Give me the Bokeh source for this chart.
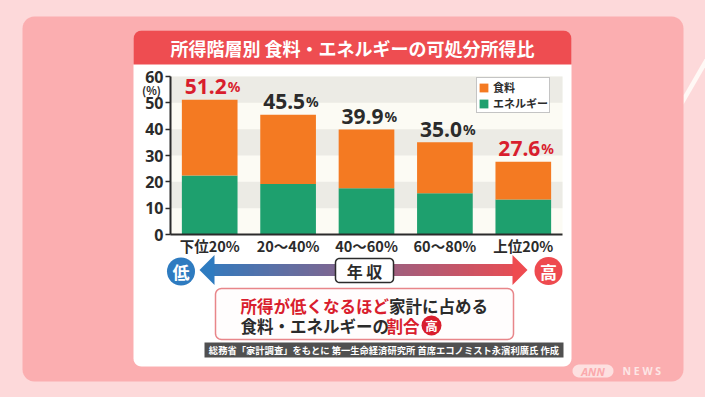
import numpy as np
from bokeh.plotting import figure
from bokeh.models import (ColumnDataSource, Range1d, FixedTicker, Legend, LegendItem, LinearAxis)
from bokeh.core.properties import value
from bokeh.embed import file_html
from bokeh.resources import INLINE

# ---------------- data ----------------
categories = ["下位20%", "20〜40%", "40〜60%", "60〜80%", "上位20%"]
energy = [22.4, 19.2, 17.6, 15.7, 13.3]
food = [28.8, 26.3, 22.3, 19.3, 14.3]
totals = [51.2, 45.5, 39.9, 35.0, 27.6]
highlight = [True, False, False, False, True]
y_ticks = [0, 10, 20, 30, 40, 50, 60]
series_names = ["食料", "エネルギー"]
title_text = "所得階層別 食料・エネルギーの可処分所得比"
axis_unit = "(%)"
arrow_left, arrow_mid, arrow_right = "低", "年 収", "高"
note_line1 = ["所得が低くなるほど", "家計に占める"]
note_line2 = ["食料・エネルギーの", "割合", "高"]
source_text = "総務省「家計調査」をもとに 第一生命経済研究所 首席エコノミスト永濱利廣氏 作成"

# ---------------- style ----------------
JP = "Noto Sans CJK JP"
LAT = "Noto Sans"
ORANGE = "#F47A22"
GREEN = "#1EA06E"
RED = "#D91E2E"
DARK = "#2B2B2B"
BG_OUT = "#FDD9DA"
BG_IN = "#FBAEB0"
TITLE_RED = "#EE4D51"
CREAM = "#FCFBF4"
BAND = "#ECEBE5"
BLUE = (46, 123, 192)
ARED = (238, 75, 80)

W, H = 705, 397
FL, FR, FT, FB = 170, 562, 76, 234   # chart area edges in page pixels
NCAT = len(categories)
ymin, ymax = y_ticks[0], y_ticks[-1]
ux = (FR - FL) / NCAT
uy = (FB - FT) / (ymax - ymin)
LABEL_GAP = 13 / uy   # gap between bar top and its value label

p = figure(width=W, height=H,
           x_range=Range1d(-0.5 - FL / ux, -0.5 + (W - FL) / ux),
           y_range=Range1d(ymin - (H - FB) / uy, ymax + FT / uy),
           x_axis_type=None, y_axis_type=None,
           output_backend="svg", toolbar_location=None, title=None, min_border=0,
           background_fill_color=BG_OUT, border_fill_color=BG_OUT, outline_line_color=None)
p.extra_x_ranges = {"px": Range1d(0, W)}
p.extra_y_ranges = {"px": Range1d(H, 0)}
PX = dict(x_range_name="px", y_range_name="px")


def rrect(x0, y0, x1, y1, r, n=8):
    if not isinstance(r, (tuple, list)):
        r = (r, r, r, r)
    tl, tr, br, bl = r
    pts = []
    corners = [(x1 - tr, y0 + tr, tr, -90, 0), (x1 - br, y1 - br, br, 0, 90),
               (x0 + bl, y1 - bl, bl, 90, 180), (x0 + tl, y0 + tl, tl, 180, 270)]
    for cx, cy, rad, a0, a1 in corners:
        for t in np.linspace(a0, a1, n):
            a = np.radians(t)
            pts.append((float(cx + rad * np.cos(a)), float(cy + rad * np.sin(a))))
    return [a for a, b in pts], [b for a, b in pts]


def shape(xs, ys, color, line_color=None, line_width=1, alpha=1.0):
    p.patch(list(xs), list(ys), fill_color=color, fill_alpha=alpha, line_color=line_color,
            line_width=line_width, **PX)


def txt(x, y, text, size, color, align="center", font=JP, style="bold", baseline="middle"):
    p.text(x=[x], y=[y], text=[text], text_align=align, text_baseline=baseline,
           text_color=color, text_font=value(font), text_font_size=size,
           text_font_style=style, **PX)


# ---------------- background decorations ----------------
shape([705, 705, 683, 683], [57, 66, 104, 95], "#FFF8F5")
shape(*rrect(22, 16, 683, 381, 12), BG_IN)
shape(*rrect(133, 30, 571, 366, 8), "white")
shape(*rrect(133, 30, 571, 64, (8, 8, 0, 0)), TITLE_RED)
txt(352, 47.5, title_text, "18px", "white")

# chart area background and alternating bands
p.quad(left=-0.5, right=NCAT - 0.5, bottom=ymin, top=ymax, fill_color=CREAM, line_color=None)
p.quad(left=-0.5, right=NCAT - 0.5, bottom=y_ticks[1::2], top=y_ticks[2::2],
       fill_color=BAND, line_color=None)

# ---------------- bars ----------------
src = ColumnDataSource(dict(xi=list(range(NCAT)), cat=categories, energy=energy, food=food,
                            total=totals, label_y=[t + LABEL_GAP for t in totals],
                            num=[f"{t:.1f}" for t in totals],
                            color=[RED if h else DARK for h in highlight]))
rs = p.vbar_stack(["energy", "food"], x="xi", width=0.71, fill_color=[GREEN, ORANGE],
                  line_color=None, source=src)

p.text(x="xi", y="label_y", text="num", source=src, text_align="right", text_baseline="alphabetic",
       x_offset=17, text_color="color", text_font=value(LAT),
       text_font_style="bold", text_font_size="21px")
p.text(x="xi", y="label_y", text=value("%"), source=src, text_align="left", text_baseline="alphabetic",
       x_offset=18, text_color="color", text_font=value(LAT),
       text_font_style="bold", text_font_size="14px")

# ---------------- axes ----------------
yax = LinearAxis(ticker=FixedTicker(ticks=y_ticks), fixed_location=-0.5, bounds=(ymin, ymax),
                 major_tick_out=5, major_tick_in=0, minor_tick_line_color=None,
                 major_tick_line_color=DARK, major_tick_line_width=1.5,
                 axis_line_color=DARK, axis_line_width=2, major_label_standoff=2,
                 major_label_text_font=LAT, major_label_text_font_size="16px",
                 major_label_text_font_style="bold", major_label_text_color=DARK)
p.add_layout(yax, "left")
xax = LinearAxis(ticker=FixedTicker(ticks=list(range(NCAT))), fixed_location=ymin,
                 bounds=(-0.5, NCAT - 0.5),
                 major_label_overrides={i: c for i, c in enumerate(categories)},
                 major_tick_line_color=None, minor_tick_line_color=None,
                 major_tick_out=0, major_tick_in=0,
                 axis_line_color=DARK, axis_line_width=2, major_label_standoff=0,
                 major_label_text_font=JP, major_label_text_font_size="14.5px",
                 major_label_text_font_style="bold", major_label_text_color=DARK)
p.add_layout(xax, "below")
txt(151, 89, axis_unit, "11px", DARK)

# ---------------- income arrow ----------------
x_start, x_end = 199.0, 527.0
head = 15.0
n = 60
edges = np.linspace(x_start + head - 1, x_end - head + 1, n + 1)
cols = []
for i in range(n):
    t = ((edges[i] + edges[i + 1]) / 2 - x_start) / (x_end - x_start)
    c = tuple(int(round(BLUE[k] + (ARED[k] - BLUE[k]) * t)) for k in range(3))
    cols.append("#%02x%02x%02x" % c)
p.quad(left=[float(v) for v in edges[:-1]], right=[float(v) + 0.7 for v in edges[1:]],
       top=263.5, bottom=275.5, fill_color=cols, line_color=None, **PX)
shape([x_start, x_start + head, x_start + head], [269.5, 254.5, 284.5], "#%02x%02x%02x" % BLUE)
shape([x_end, x_end - head, x_end - head], [269.5, 254.5, 284.5], "#%02x%02x%02x" % ARED)

p.scatter(x=[180.5, 548], y=[271, 270.5], size=28, marker="circle",
          fill_color=["#2E7BC0", "#EE4A4F"], line_color=None, **PX)
txt(180.5, 271, arrow_left, "17px", "white")
txt(548, 270.5, arrow_right, "17px", "white")

shape(*rrect(335, 258, 393, 282, 4), "white", line_color=DARK, line_width=1.5)
txt(364, 270.5, arrow_mid, "16px", DARK)

# ---------------- note box ----------------
shape(*rrect(215, 288, 513, 339, 6), "#FFFDFD", line_color="#E8868A", line_width=1.5)
txt(240, 305, note_line1[0], "16.5px", RED, align="left")
txt(388.5, 305, note_line1[1], "16.5px", DARK, align="left")
txt(240, 325, note_line2[0], "16.5px", DARK, align="left")
txt(386, 325, note_line2[1], "16.5px", RED, align="left")
p.scatter(x=[431], y=[325], size=20, marker="circle", fill_color=RED, line_color=None, **PX)
txt(431, 325, note_line2[2], "12.5px", "white")

# ---------------- source bar ----------------
p.quad(left=204, right=563, top=342, bottom=357, fill_color="#505050", line_color=None, **PX)
txt(383.5, 349.5, source_text, "9.3px", "white")

# ---------------- logo ----------------
shape(*rrect(572, 364, 613, 377, 6.5), "#FDE6E6", alpha=0.9)
txt(592.5, 370.5, "ANN", "11px", "#FBA9AC", font=LAT, style="bold italic")
txt(622, 370.5, "N E W S", "10.5px", "#FDE6E6", align="left", font=LAT)

# ---------------- legend ----------------
legend = Legend(items=[LegendItem(label=series_names[0], renderers=[rs[1]]),
                       LegendItem(label=series_names[1], renderers=[rs[0]])],
                location=(476, H - 113), padding=1, spacing=0, margin=0,
                glyph_width=11, glyph_height=11, label_height=11, label_standoff=4,
                label_text_font=JP, label_text_font_size="11px", label_text_font_style="bold",
                label_text_color=DARK, border_line_color="#8A8A8A", border_line_width=1,
                background_fill_color="white", background_fill_alpha=1)
p.add_layout(legend)

html = file_html(p, INLINE)
html = html.replace("</head>", "<style>body{background:%s;}</style></head>" % BG_OUT, 1)
open("out.html", "w").write(html)
